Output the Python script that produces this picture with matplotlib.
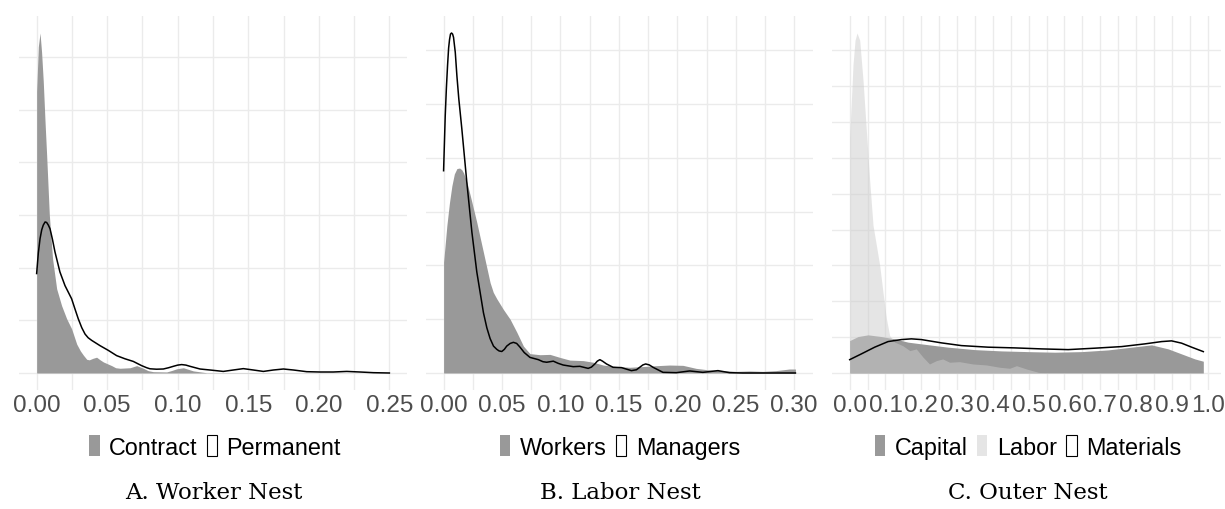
import matplotlib
matplotlib.use("Agg")
import matplotlib.pyplot as plt
from matplotlib.patches import Patch
import numpy as np

# ---------------- data ----------------
# Panel A: Worker Nest
contract_x = [0.0, 0.0012, 0.0024, 0.0035, 0.0047, 0.0060, 0.0071, 0.009, 0.0113, 0.0142, 0.0177, 0.0213,
              0.0248, 0.0284, 0.0310, 0.0331, 0.0355, 0.0373, 0.0400, 0.0425, 0.0450, 0.0473, 0.0532,
              0.0560, 0.0591, 0.0662, 0.0709, 0.0756, 0.0790, 0.0827, 0.0922, 0.0960, 0.0993, 0.104,
              0.111, 0.1205, 0.25]
contract_y = [53.5, 62.0, 64.6, 61.0, 55.4, 47.5, 41.4, 30.0, 21.7, 16.0, 12.8, 10.3,
              8.4, 5.5, 4.2, 3.4, 2.6, 2.5, 2.8, 3.0, 2.5, 2.1, 1.4,
              1.0, 0.9, 1.0, 1.4, 0.9, 0.45, 0.25, 0.2, 0.5, 0.8, 1.0,
              0.4, 0.05, 0.0]

permanent_x = [0.0, 0.0012, 0.0024, 0.0036, 0.0047, 0.0060, 0.0071, 0.0083, 0.0095, 0.0112, 0.013,
               0.0165, 0.0201, 0.0248, 0.0270, 0.0295, 0.0320, 0.0343, 0.0365, 0.039, 0.0449, 0.0508,
               0.0567, 0.0626, 0.0685, 0.0744, 0.0780, 0.0803, 0.0850, 0.0898, 0.0935, 0.0969, 0.1000,
               0.1028, 0.1058, 0.1087, 0.1158, 0.1229, 0.1323, 0.1394, 0.1465, 0.1536, 0.1607, 0.1678,
               0.1749, 0.182, 0.1914, 0.2009, 0.2103, 0.2198, 0.2292, 0.2387, 0.25]
permanent_y = [18.9, 22.8, 25.5, 27.2, 28.1, 28.7, 28.6, 28.1, 27.4, 25.4, 23.0,
               19.2, 16.6, 14.1, 12.3, 10.3, 8.6, 7.4, 6.7, 6.2, 5.2, 4.3,
               3.3, 2.7, 2.2, 1.4, 1.0, 0.8, 0.72, 0.76, 1.0, 1.27, 1.5,
               1.6, 1.5, 1.27, 0.76, 0.57, 0.3, 0.57, 0.83, 0.57, 0.3, 0.57,
               0.76, 0.57, 0.25, 0.19, 0.19, 0.3, 0.19, 0.06, 0.0]

# Panel B: Labor Nest
workers_x = [0.0, 0.0028, 0.0050, 0.0071, 0.0092, 0.0114, 0.0137, 0.0155, 0.0171, 0.0200, 0.0228,
             0.0284, 0.0341, 0.0398, 0.0425, 0.0455, 0.0512, 0.0569, 0.0626, 0.0683, 0.0739, 0.0825,
             0.091, 0.0995, 0.108, 0.1195, 0.128, 0.1365, 0.1479, 0.1593, 0.1706, 0.182, 0.1934,
             0.2048, 0.2161, 0.2275, 0.2389, 0.2503, 0.2616, 0.273, 0.2844, 0.2958, 0.301]
workers_y = [10.3, 13.7, 15.8, 17.4, 18.5, 19.0, 19.05, 18.9, 18.6, 17.7, 16.5,
             14.0, 11.2, 8.4, 7.5, 6.9, 5.9, 5.0, 3.8, 2.5, 1.8, 1.7,
             1.73, 1.45, 1.2, 1.15, 1.0, 0.74, 0.6, 0.53, 0.6, 0.68, 0.74,
             0.71, 0.43, 0.28, 0.22, 0.15, 0.19, 0.15, 0.22, 0.37, 0.37]

managers_x = [0.0, 0.0014, 0.0024, 0.0034, 0.0043, 0.0051, 0.0059, 0.0068, 0.0077, 0.0085, 0.0100,
              0.0114, 0.0130, 0.0156, 0.0199, 0.0242, 0.0284, 0.0341, 0.0370, 0.0398, 0.0427, 0.0455,
              0.0475, 0.0498, 0.0520, 0.054, 0.0570, 0.0597, 0.0625, 0.0654, 0.0690, 0.0739, 0.0811,
              0.0850, 0.0882, 0.0939, 0.0980, 0.1024, 0.1109, 0.1166, 0.1237, 0.1265, 0.1294, 0.1315,
              0.1337, 0.1360, 0.1394, 0.145, 0.1522, 0.1607, 0.1650, 0.1678, 0.1705, 0.1729, 0.1760,
              0.1792, 0.1877, 0.1991, 0.2105, 0.2218, 0.2347, 0.2446, 0.256, 0.301]
managers_y = [18.8, 23.9, 26.5, 28.6, 30.2, 31.0, 31.5, 31.6, 31.5, 31.2, 29.8,
              27.6, 25.5, 22.7, 17.7, 13.1, 9.4, 5.6, 4.2, 3.2, 2.5, 2.2,
              2.05, 2.0, 2.2, 2.5, 2.75, 2.85, 2.75, 2.4, 1.9, 1.45, 1.24,
              1.05, 1.0, 1.1, 0.9, 0.74, 0.59, 0.62, 0.43, 0.55, 0.84, 1.1,
              1.24, 1.1, 0.84, 0.53, 0.5, 0.22, 0.3, 0.53, 0.75, 0.84, 0.75,
              0.53, 0.06, 0.03, 0.19, 0.06, 0.22, 0.03, 0.0, 0.0]

# Panel C: Outer Nest
capital_x = [0.0, 0.0233, 0.0513, 0.0885, 0.1258, 0.163, 0.2004, 0.2749, 0.3495, 0.424, 0.4986,
             0.5732, 0.6477, 0.7223, 0.7875, 0.8434, 0.89, 0.9273, 0.9646, 0.988]
capital_y = [2.26, 2.54, 2.66, 2.54, 2.38, 2.15, 2.03, 1.8, 1.63, 1.54, 1.49,
             1.45, 1.49, 1.61, 1.8, 1.96, 1.68, 1.33, 0.98, 0.82]

labor_x = [0.0, 0.0093, 0.0150, 0.0205, 0.028, 0.0373, 0.0466, 0.0559, 0.0652, 0.0746, 0.0839, 0.0932,
           0.1025, 0.1118, 0.1258, 0.148, 0.168, 0.186, 0.205, 0.223, 0.242, 0.26, 0.279,
           0.307, 0.344, 0.382, 0.419, 0.447, 0.466, 0.494, 0.527, 0.545]
labor_y = [16.4, 21.5, 23.2, 23.7, 23.2, 20.4, 16.9, 13.4, 10.3, 8.9, 7.5, 5.6,
           3.8, 2.6, 2.15, 1.91, 1.56, 1.68, 1.1, 0.63, 0.86, 0.98, 0.75,
           0.79, 0.63, 0.56, 0.4, 0.33, 0.51, 0.28, 0.05, 0.0]

materials_x = [0.0, 0.0326, 0.0699, 0.1072, 0.1445, 0.1724, 0.2004, 0.2563, 0.3122, 0.3868, 0.4613,
               0.5359, 0.6104, 0.685, 0.7595, 0.8248, 0.8714, 0.8993, 0.9273, 0.9553, 0.988]
materials_y = [0.93, 1.33, 1.8, 2.19, 2.33, 2.38, 2.33, 2.1, 1.91, 1.8, 1.75,
               1.68, 1.63, 1.73, 1.84, 2.03, 2.19, 2.24, 2.08, 1.8, 1.49]

panel_titles = ["A. Worker Nest", "B. Labor Nest", "C. Outer Nest"]
legend_labels_a = ["Contract", "Permanent"]
legend_labels_b = ["Workers", "Managers"]
legend_labels_c = ["Capital", "Labor", "Materials"]

# ---------------- styling ----------------
W, H = 1225, 510
DARK = "#999999"
LIGHT = "#cccccc"
GRID = "#ebebeb"
SANS = ["Liberation Sans", "DejaVu Sans"]
SERIF = ["DejaVu Serif"]

fig = plt.figure(figsize=(W / 100, H / 100), dpi=100)


def make_ax(left, right, top=17, bottom=391):
    return fig.add_axes([left / W, 1 - bottom / H, (right - left) / W, (bottom - top) / H])


def style(ax, xmax, xmaj, xminor, ystep, ypeak, fmt):
    xr = xmax
    ax.set_xlim(-0.05 * xr, xmax + 0.05 * xr)
    ax.set_ylim(-0.05 * ypeak, 1.05 * ypeak)
    ticks = np.arange(0, xmax + 1e-9, xmaj)
    ax.set_xticks(ticks)
    ax.set_xticks(np.arange(0, xmax + 0.05 * xr, xminor), minor=True)
    ax.set_xticklabels([fmt.format(v) for v in ticks], fontfamily=SANS)
    ax.set_yticks(np.arange(0, 1.05 * ypeak, ystep))
    ax.set_yticklabels([])
    for s in ax.spines.values():
        s.set_visible(False)
    ax.tick_params(axis="both", which="both", length=0)
    ax.tick_params(axis="x", pad=3, labelsize=17.5, labelcolor="#4d4d4d")
    ax.grid(True, which="both", color=GRID, linewidth=1.0)
    ax.set_axisbelow(True)


def add_legend(center_x, handles, labels):
    return fig.legend(handles, labels, loc="center", bbox_to_anchor=(center_x / W, 1 - 448 / H),
                      ncol=len(labels), frameon=False, handlelength=0.45, handleheight=1.0,
                      handletextpad=0.4, columnspacing=0.4, prop={"family": SANS, "size": 16.8})


# Panel A
axA = make_ax(19, 407)
axA.fill_between(contract_x, contract_y, 0, color=DARK, linewidth=0, zorder=2)
axA.plot(permanent_x, permanent_y, color="black", linewidth=1.1, zorder=3)
style(axA, 0.25, 0.05, 0.025, 10, max(contract_y), "{:.2f}")

# Panel B
axB = make_ax(426, 813)
axB.fill_between(workers_x, workers_y, 0, color=DARK, linewidth=0, zorder=2)
axB.plot(managers_x, managers_y, color="black", linewidth=1.1, zorder=3)
style(axB, 0.301, 0.05, 0.025, 5, max(managers_y), "{:.2f}")

# Panel C
axC = make_ax(832, 1221)
axC.fill_between(capital_x, capital_y, 0, color=DARK, linewidth=0, zorder=2)
axC.fill_between(labor_x, labor_y, 0, color=LIGHT, alpha=0.5, linewidth=0, zorder=2.5)
axC.plot(materials_x, materials_y, color="black", linewidth=1.1, zorder=3)
style(axC, 0.988, 0.1, 0.05, 2.5, max(labor_y), "{:.1f}")
ticksC = np.arange(0, 1.0 + 1e-9, 0.1)
axC.set_xticks(ticksC)
axC.set_xticks(np.arange(0, 1.0 + 1e-9, 0.05), minor=True)
axC.set_xticklabels([f"{v:.1f}" for v in ticksC], fontfamily=SANS)

# Legends
add_legend(215, [Patch(facecolor=DARK, edgecolor="none"),
                 Patch(facecolor="white", edgecolor="black", linewidth=0.8)], legend_labels_a)
add_legend(620, [Patch(facecolor=DARK, edgecolor="none"),
                 Patch(facecolor="white", edgecolor="black", linewidth=0.8)], legend_labels_b)
add_legend(1028, [Patch(facecolor=DARK, edgecolor="none"),
                  Patch(facecolor=LIGHT, alpha=0.5, edgecolor="none"),
                  Patch(facecolor="white", edgecolor="black", linewidth=0.8)], legend_labels_c)

# Titles
for cx, t in zip([214, 620, 1028], panel_titles):
    fig.text(cx / W, 1 - 493 / H, t, ha="center", va="center", fontsize=16.5,
             family=SERIF, color="black")

fig.savefig("out.png", dpi=100)
